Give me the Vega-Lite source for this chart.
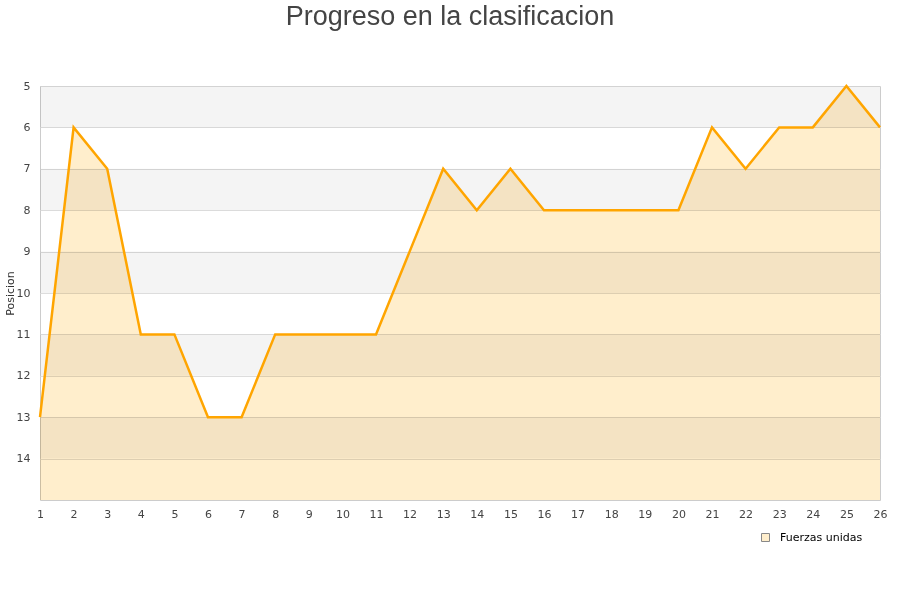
{
  "$schema": "https://vega.github.io/schema/vega-lite/v6.json",
  "width": 840,
  "height": 414,
  "autosize": {"type": "none"},
  "padding": {"left": 40, "top": 86, "right": 20, "bottom": 100},
  "background": "white",
  "title": {
    "text": "Progreso en la clasificacion",
    "font": "Liberation Sans",
    "fontSize": 27,
    "fontWeight": "normal",
    "color": "#444444",
    "anchor": "middle",
    "baseline": "alphabetic",
    "offset": 28,
    "dx": -10
  },
  "config": {
    "view": {"stroke": "#cccccc", "strokeWidth": 1},
    "axis": {
      "labelFont": "DejaVu Sans",
      "labelFontSize": 11,
      "labelColor": "#444444",
      "titleFont": "DejaVu Sans",
      "titleFontSize": 11,
      "titleFontWeight": "normal",
      "titleColor": "#333333",
      "domain": false,
      "ticks": false,
      "labelOverlap": false
    }
  },
  "datasets": {
    "serie": [
      {"jornada": 1, "posicion": 13, "equipo": "Fuerzas unidas"},
      {"jornada": 2, "posicion": 6, "equipo": "Fuerzas unidas"},
      {"jornada": 3, "posicion": 7, "equipo": "Fuerzas unidas"},
      {"jornada": 4, "posicion": 11, "equipo": "Fuerzas unidas"},
      {"jornada": 5, "posicion": 11, "equipo": "Fuerzas unidas"},
      {"jornada": 6, "posicion": 13, "equipo": "Fuerzas unidas"},
      {"jornada": 7, "posicion": 13, "equipo": "Fuerzas unidas"},
      {"jornada": 8, "posicion": 11, "equipo": "Fuerzas unidas"},
      {"jornada": 9, "posicion": 11, "equipo": "Fuerzas unidas"},
      {"jornada": 10, "posicion": 11, "equipo": "Fuerzas unidas"},
      {"jornada": 11, "posicion": 11, "equipo": "Fuerzas unidas"},
      {"jornada": 12, "posicion": 9, "equipo": "Fuerzas unidas"},
      {"jornada": 13, "posicion": 7, "equipo": "Fuerzas unidas"},
      {"jornada": 14, "posicion": 8, "equipo": "Fuerzas unidas"},
      {"jornada": 15, "posicion": 7, "equipo": "Fuerzas unidas"},
      {"jornada": 16, "posicion": 8, "equipo": "Fuerzas unidas"},
      {"jornada": 17, "posicion": 8, "equipo": "Fuerzas unidas"},
      {"jornada": 18, "posicion": 8, "equipo": "Fuerzas unidas"},
      {"jornada": 19, "posicion": 8, "equipo": "Fuerzas unidas"},
      {"jornada": 20, "posicion": 8, "equipo": "Fuerzas unidas"},
      {"jornada": 21, "posicion": 6, "equipo": "Fuerzas unidas"},
      {"jornada": 22, "posicion": 7, "equipo": "Fuerzas unidas"},
      {"jornada": 23, "posicion": 6, "equipo": "Fuerzas unidas"},
      {"jornada": 24, "posicion": 6, "equipo": "Fuerzas unidas"},
      {"jornada": 25, "posicion": 5, "equipo": "Fuerzas unidas"},
      {"jornada": 26, "posicion": 6, "equipo": "Fuerzas unidas"}
    ],
    "bandas": [
      {"desde": 5, "hasta": 6},
      {"desde": 7, "hasta": 8},
      {"desde": 9, "hasta": 10},
      {"desde": 11, "hasta": 12},
      {"desde": 13, "hasta": 14}
    ]
  },
  "layer": [
    {
      "data": {"name": "bandas"},
      "mark": {"type": "rect", "fill": "#000000", "opacity": 0.045},
      "encoding": {
        "y": {"field": "desde", "type": "quantitative", "scale": {"domain": [5, 15], "reverse": true, "nice": false}},
        "y2": {"field": "hasta"}
      }
    },
    {
      "data": {"name": "serie"},
      "mark": {"type": "area", "blend": "multiply", "interpolate": "linear"},
      "encoding": {
        "x": {
          "field": "jornada",
          "type": "ordinal",
          "scale": {"type": "point", "padding": 0},
          "axis": {"title": null, "grid": false, "labelPadding": 8, "labelAngle": 0, "labelOverlap": false}
        },
        "y": {
          "field": "posicion",
          "type": "quantitative",
          "scale": {"domain": [5, 15], "reverse": true, "nice": false, "zero": false},
          "axis": {"values": [5,6,7,8,9,10,11,12,13,14], "title": "Posicion", "grid": true, "gridColor": "#dddddd", "labelPadding": 10, "titleX": -25, "labelFlush": false, "labelOverlap": false}
        },
        "y2": {"datum": 15},
        "color": {
          "field": "equipo",
          "type": "nominal",
          "scale": {"range": ["#ffeecc"]},
          "legend": {
            "title": null,
            "orient": "none",
            "legendX": 720,
            "legendY": 446,
            "symbolType": "square",
            "symbolSize": 64,
            "symbolStrokeColor": "#888888",
            "symbolStrokeWidth": 1,
            "labelOffset": 9,
            "labelFont": "DejaVu Sans",
            "labelFontSize": 11,
            "labelColor": "#000000"
          }
        }
      }
    },
    {
      "data": {"name": "serie"},
      "mark": {"type": "line", "color": "#ffa500", "strokeWidth": 2.5, "interpolate": "linear"},
      "encoding": {
        "x": {"field": "jornada", "type": "ordinal"},
        "y": {"field": "posicion", "type": "quantitative"}
      }
    }
  ]
}
